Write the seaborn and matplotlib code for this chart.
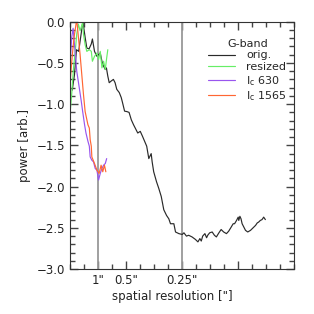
import matplotlib
matplotlib.use("Agg")
import matplotlib.pyplot as plt
from matplotlib.ticker import MultipleLocator, FixedLocator, FixedFormatter
import pandas as pd
import seaborn as sns

# spatial frequency [1/arcsec] vs. log power
orig_x = [0.08, 0.16, 0.23, 0.31, 0.375, 0.46, 0.54, 0.60, 0.68, 0.76, 0.80, 0.875,
          0.96, 1.02, 1.08, 1.14, 1.20, 1.26, 1.30, 1.35, 1.40, 1.47, 1.55, 1.61,
          1.67, 1.76, 1.83, 1.875, 1.95, 2.03, 2.11, 2.19, 2.27, 2.33, 2.42, 2.51,
          2.59, 2.69, 2.74, 2.815, 2.90, 2.935, 2.99, 3.09, 3.17, 3.26, 3.35, 3.45,
          3.53, 3.59, 3.71, 3.77, 3.89, 4.01, 4.07, 4.16, 4.24, 4.36, 4.48, 4.57,
          4.64, 4.69, 4.74, 4.82, 4.88, 4.92, 4.99, 5.08, 5.16, 5.23, 5.32, 5.40,
          5.49, 5.59, 5.67, 5.76, 5.83, 5.88, 5.95, 6.01, 6.03, 6.07, 6.11, 6.15,
          6.21, 6.27, 6.35, 6.45, 6.54, 6.63, 6.69, 6.74, 6.80, 6.86, 6.92, 6.98]
orig_y = [-0.83, -0.64, -0.34, -0.36, -0.20, 0.00, -0.19, -0.32, -0.33, -0.27, -0.21, -0.36,
          -0.42, -0.40, -0.38, -0.48, -0.54, -0.58, -0.56, -0.66, -0.74, -0.72, -0.70, -0.74,
          -0.82, -0.86, -0.92, -0.98, -1.085, -1.09, -1.10, -1.19, -1.25, -1.29, -1.35, -1.33,
          -1.39, -1.47, -1.51, -1.66, -1.60, -1.70, -1.82, -1.94, -2.02, -2.12, -2.28, -2.35,
          -2.39, -2.45, -2.45, -2.55, -2.57, -2.58, -2.56, -2.60, -2.59, -2.61, -2.64, -2.67,
          -2.63, -2.66, -2.60, -2.57, -2.62, -2.59, -2.56, -2.55, -2.59, -2.61, -2.56, -2.52,
          -2.55, -2.57, -2.54, -2.49, -2.45, -2.45, -2.41, -2.37, -2.41, -2.36, -2.39, -2.45,
          -2.49, -2.53, -2.55, -2.53, -2.50, -2.47, -2.44, -2.43, -2.41, -2.40, -2.37, -2.40]

resized_x = [0.01, 0.06, 0.125, 0.19, 0.24, 0.30, 0.36, 0.45, 0.48, 0.54, 0.60, 0.69,
             0.76, 0.80, 0.875, 0.96, 1.02, 1.08, 1.14, 1.20, 1.26, 1.31, 1.35]
resized_y = [-1.08, -0.88, -0.56, -0.35, -0.15, -0.03, -0.11, -0.01, -0.15, -0.28, -0.36, -0.34,
             -0.36, -0.48, -0.42, -0.38, -0.46, -0.36, -0.56, -0.48, -0.58, -0.44, -0.34]

ic630_x = [0.01, 0.06, 0.11, 0.19, 0.24, 0.33, 0.40, 0.45, 0.52, 0.57, 0.64, 0.69,
           0.72, 0.78, 0.84, 0.90, 0.96, 1.02, 1.08, 1.14, 1.20, 1.26, 1.31]
ic630_y = [-0.48, -0.19, -0.08, -0.40, -0.60, -0.80, -0.96, -1.085, -1.25, -1.35, -1.45, -1.51,
           -1.64, -1.68, -1.70, -1.78, -1.80, -1.92, -1.84, -1.78, -1.74, -1.72, -1.66]

ic1565_x = [0.00, 0.07, 0.14, 0.24, 0.30, 0.36, 0.42, 0.48, 0.54, 0.64, 0.69,
            0.72, 0.76, 0.78, 0.875, 0.96, 1.04, 1.11, 1.17, 1.23, 1.28]
ic1565_y = [-0.75, -0.45, -0.20, 0.03, -0.19, -0.40, -0.64, -0.88, -1.09, -1.25, -1.29,
            -1.43, -1.51, -1.64, -1.72, -1.80, -1.84, -1.74, -1.82, -1.74, -1.82]

labels = ["orig.", "resized", r"$\mathregular{I_c}$ 630", r"$\mathregular{I_c}$ 1565"]
colors = ["#2a2a2a", "#66ee66", "#9955ee", "#ff6633"]

# 1", 0.25" resolution markers
res_lines = [1.0, 4.0]
xtick_pos = [1, 2, 4, 6]
xtick_lab = ['1"', '0.5"', '0.25"', '']

df = pd.concat([
    pd.DataFrame({"k": orig_x, "p": orig_y, "s": labels[0]}),
    pd.DataFrame({"k": resized_x, "p": resized_y, "s": labels[1]}),
    pd.DataFrame({"k": ic630_x, "p": ic630_y, "s": labels[2]}),
    pd.DataFrame({"k": ic1565_x, "p": ic1565_y, "s": labels[3]}),
], ignore_index=True)

sns.set_style("ticks")
plt.rcParams["font.family"] = ["DejaVu Sans"]
plt.rcParams["mathtext.default"] = "regular"

fig = plt.figure(figsize=(3.14, 3.14), dpi=100)
ax = fig.add_axes([0.223, 0.143, 0.713, 0.788])

sns.lineplot(data=df, x="k", y="p", hue="s", hue_order=labels, palette=colors,
             sort=False, estimator=None, lw=0.85, ax=ax)

for xv in res_lines:
    ax.axvline(xv, color="#999999", lw=1.3, zorder=1)

ax.set_xlim(0, 8)
ax.set_ylim(-3.0, 0.0)
ax.xaxis.set_major_locator(FixedLocator(xtick_pos))
ax.xaxis.set_major_formatter(FixedFormatter(xtick_lab))
ax.xaxis.set_minor_locator(MultipleLocator(0.5))
ax.yaxis.set_major_locator(MultipleLocator(0.5))
ax.yaxis.set_minor_locator(MultipleLocator(0.1))
ax.yaxis.set_major_formatter(plt.FuncFormatter(lambda v, p: f"{v:.1f}".replace("-", "\u2212")))

# IDL-style frame: inward ticks on all four sides
ax.tick_params(which="both", direction="in", top=True, right=True,
               color="#444444", width=1.0, labelsize=8.5, labelcolor="#222222")
ax.tick_params(which="major", length=6)
ax.tick_params(which="minor", length=3.5)
for sp in ax.spines.values():
    sp.set_color("#333333")
    sp.set_linewidth(0.8)

ax.set_xlabel('spatial resolution ["]', fontsize=8.5, color="#222222")
ax.xaxis.set_label_coords(0.458, -0.085)
ax.set_ylabel("power [arb.]", fontsize=8.5, color="#222222")

ax.legend(title="G-band", loc="upper right", bbox_to_anchor=(0.969, 0.931),
          frameon=False, fontsize=8, title_fontsize=8, handlelength=2.4,
          handletextpad=1.0, labelspacing=0.15, borderpad=0, borderaxespad=0)

fig.savefig("out.png", dpi=100)
